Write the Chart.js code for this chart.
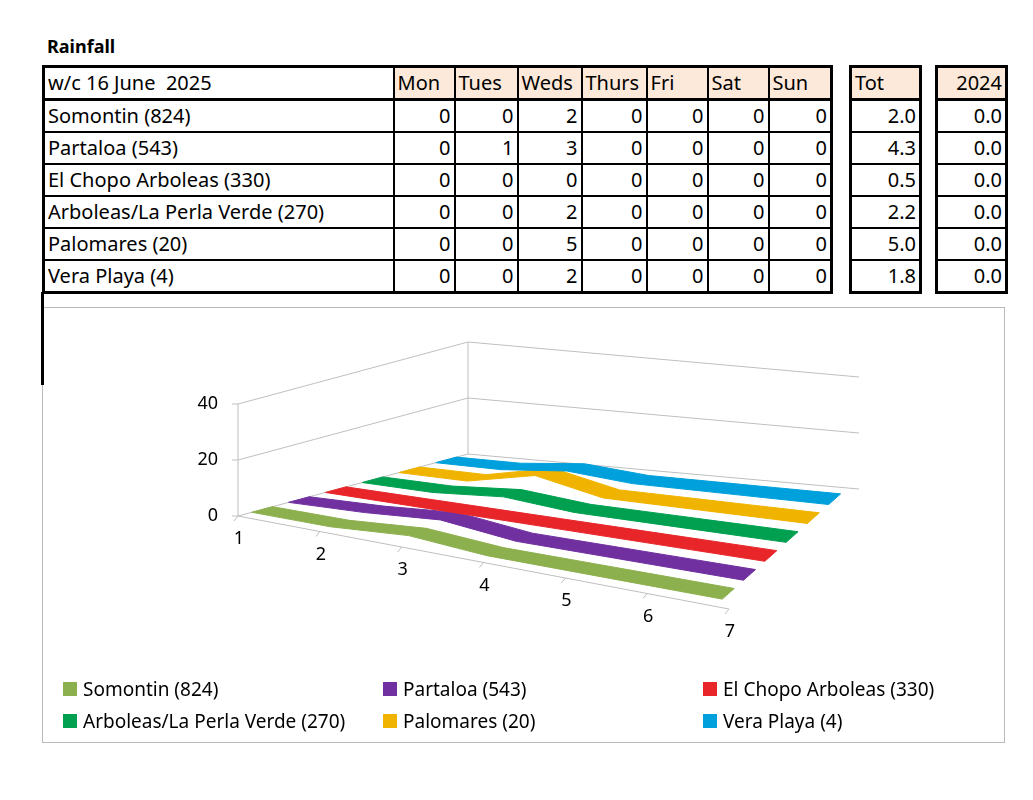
<!DOCTYPE html>
<html><head><meta charset="utf-8">
<script src="https://cdn.jsdelivr.net/npm/chart.js@4"></script>
<style>
body{margin:0;background:#fff;font-family:"Noto Sans",sans-serif;}
#title{position:absolute;left:47px;top:34px;font-weight:bold;font-size:18px;}
table{position:absolute;border-collapse:collapse;font-size:20px;top:65px;}
td{border:2px solid #000;height:30px;padding:0 3px;line-height:28px;white-space:nowrap;overflow:hidden;}
tr.h td{background:#fde9d9;}
tr.h td.w{background:#fff;}
td.n{text-align:right;}
table{border:3px solid #000;table-layout:fixed;}
tr.h td{border-bottom:3px solid #000;}
#box{position:absolute;left:42px;top:307px;width:961px;height:434px;border:1px solid #bbb;background:#fff;}
#cv{position:absolute;left:0;top:0;}
#vline{position:absolute;left:41px;top:292px;width:3px;height:93px;background:#000;}
.lg{position:absolute;font-size:19px;display:flex;align-items:center;}
.lg span{display:inline-block;width:14px;height:14px;margin-right:6px;}
</style></head><body>
<div id="title">Rainfall</div>
<div id="tables"></div>
<div id="box"><canvas id="cv" width="961" height="434"></canvas></div>
<div id="vline"></div>
<div id="legend"></div>
<script>
const weekLabel = "w/c 16 June  2025";
const days = ["Mon","Tues","Weds","Thurs","Fri","Sat","Sun"];
const stations = ["Somontin (824)","Partaloa (543)","El Chopo Arboleas (330)","Arboleas/La Perla Verde (270)","Palomares (20)","Vera Playa (4)"];
const somontin = [0,0,2,0,0,0,0];
const partaloa = [0,1,3,0,0,0,0];
const elChopo = [0,0,0,0,0,0,0];
const arboleas = [0,0,2,0,0,0,0];
const palomares = [0,0,5,0,0,0,0];
const veraPlaya = [0,0,2,0,0,0,0];
const totals = [2.0,4.3,0.5,2.2,5.0,1.8];
const year2024 = [0.0,0.0,0.0,0.0,0.0,0.0];
const catLabels = ["1","2","3","4","5","6","7"];
const valTicks = [0,20,40];
const colors = ["#8db04f","#7030a0","#e8262a","#00a050","#f0b400","#00a0dc"];
const series = [somontin,partaloa,elChopo,arboleas,palomares,veraPlaya];

let h = '<table style="left:42px;width:789px"><colgroup><col style="width:350px">'+days.map((d,i)=>'<col style="width:'+[61,63,64,65,61,61,63][i]+'px">').join('')+'</colgroup>';
h += '<tr class="h"><td class="w">'+weekLabel.replace(/  /g,' &nbsp;')+'</td>'+days.map(d=>'<td>'+d+'</td>').join('')+'</tr>';
stations.forEach((s,i)=>{h+='<tr><td>'+s+'</td>'+series[i].map(v=>'<td class="n">'+v+'</td>').join('')+'</tr>';});
h += '</table>';
h += '<table style="left:849px;width:72px"><col style="width:70px"><tr class="h"><td>Tot</td></tr>'+totals.map(v=>'<tr><td class="n">'+v.toFixed(1)+'</td></tr>').join('')+'</table>';
h += '<table style="left:935px;width:72px"><col style="width:70px"><tr class="h"><td class="n">2024</td></tr>'+year2024.map(v=>'<tr><td class="n">'+v.toFixed(1)+'</td></tr>').join('')+'</table>';
document.getElementById('tables').innerHTML = h;

const lx=[63,383,703], ly=[676,708];
document.getElementById('legend').innerHTML = stations.map((s,i)=>'<div class="lg" style="left:'+lx[i%3]+'px;top:'+ly[Math.floor(i/3)]+'px"><span style="background:'+colors[i]+'"></span>'+s+'</div>').join('');

const OX=42, OY=307;
const FL=[237,515],FR=[728,608],BL=[467,453],BR=[858,488];
const PXU=2.8;
function proj(u,t,v){
  const fx=FL[0]+u*(FR[0]-FL[0]), fy=FL[1]+u*(FR[1]-FL[1]);
  const bx=BL[0]+u*(BR[0]-BL[0]), by=BL[1]+u*(BR[1]-BL[1]);
  return {x:fx+t*(bx-fx)-OX, y:fy+t*(by-fy)-v*PXU-OY};
}
const dayU = i => 0.0 + i*0.97/6;
const W=0.09;
const datasets=[];
for(let s=series.length-1;s>=0;s--){
  const t=0.06+s*0.16, vals=series[s], pts=[];
  vals.forEach((v,i)=>pts.push(proj(dayU(i),t,v)));
  for(let i=vals.length-1;i>=0;i--) pts.push(proj(dayU(i),t+W,vals[i]));
  pts.push(pts[0]);
  datasets.push({label:stations[s],data:pts,showLine:true,borderColor:colors[s],backgroundColor:colors[s],borderWidth:1,pointRadius:0,fill:false,tension:0});
}
const fillPlugin={id:'polyfill',beforeDatasetDraw(chart,args){
  const ctx=chart.ctx, pts=args.meta.data; if(!pts.length) return;
  ctx.save();ctx.beginPath();pts.forEach((p,i)=>i?ctx.lineTo(p.x,p.y):ctx.moveTo(p.x,p.y));ctx.closePath();
  ctx.fillStyle=args.meta._dataset.backgroundColor;ctx.fill();ctx.restore();
}};
const axesPlugin={id:'axes3d',beforeDatasetsDraw(chart){
  const ctx=chart.ctx, xs=chart.scales.x, ys=chart.scales.y;
  const P=(u,t,v)=>{const p=proj(u,t,v);return [xs.getPixelForValue(p.x),ys.getPixelForValue(p.y)];};
  ctx.save();ctx.strokeStyle='#bfbfbf';ctx.lineWidth=1;
  valTicks.forEach(v=>{ctx.beginPath();let a=P(0,0,v),b=P(0,1,v),c=P(1,1,v);ctx.moveTo(a[0]-6,a[1]);ctx.lineTo(a[0],a[1]);ctx.lineTo(b[0],b[1]);ctx.lineTo(c[0],c[1]);ctx.stroke();});
  [[0,0],[0,1]].forEach(([u,t])=>{let a=P(u,t,0),b=P(u,t,valTicks[valTicks.length-1]);ctx.beginPath();ctx.moveTo(a[0],a[1]);ctx.lineTo(b[0],b[1]);ctx.stroke();});
  let a=P(0,0,0),b=P(1,0,0);ctx.beginPath();ctx.moveTo(a[0],a[1]);ctx.lineTo(b[0],b[1]);ctx.stroke();
  ctx.fillStyle='#000';ctx.font='18px "Noto Sans"';ctx.textAlign='right';ctx.textBaseline='middle';
  valTicks.forEach(v=>{let p=P(0,0,v);ctx.fillText(String(v),p[0]-20,p[1]);});
  ctx.textAlign='center';ctx.textBaseline='top';
  catLabels.forEach((l,i)=>{const u=i/6;let p=P(u,0,0);ctx.beginPath();ctx.moveTo(p[0],p[1]);ctx.lineTo(p[0]-4,p[1]+5);ctx.stroke();ctx.fillText(l,p[0]+1,p[1]+14);});
  ctx.restore();
}};
new Chart(document.getElementById('cv'),{type:'scatter',data:{datasets},
  options:{responsive:false,animation:false,layout:{padding:0},
    scales:{x:{type:'linear',min:0,max:961,display:false},y:{type:'linear',min:0,max:434,reverse:true,display:false}},
    plugins:{legend:{display:false},tooltip:{enabled:false}}},
  plugins:[axesPlugin,fillPlugin]});
</script></body></html>
